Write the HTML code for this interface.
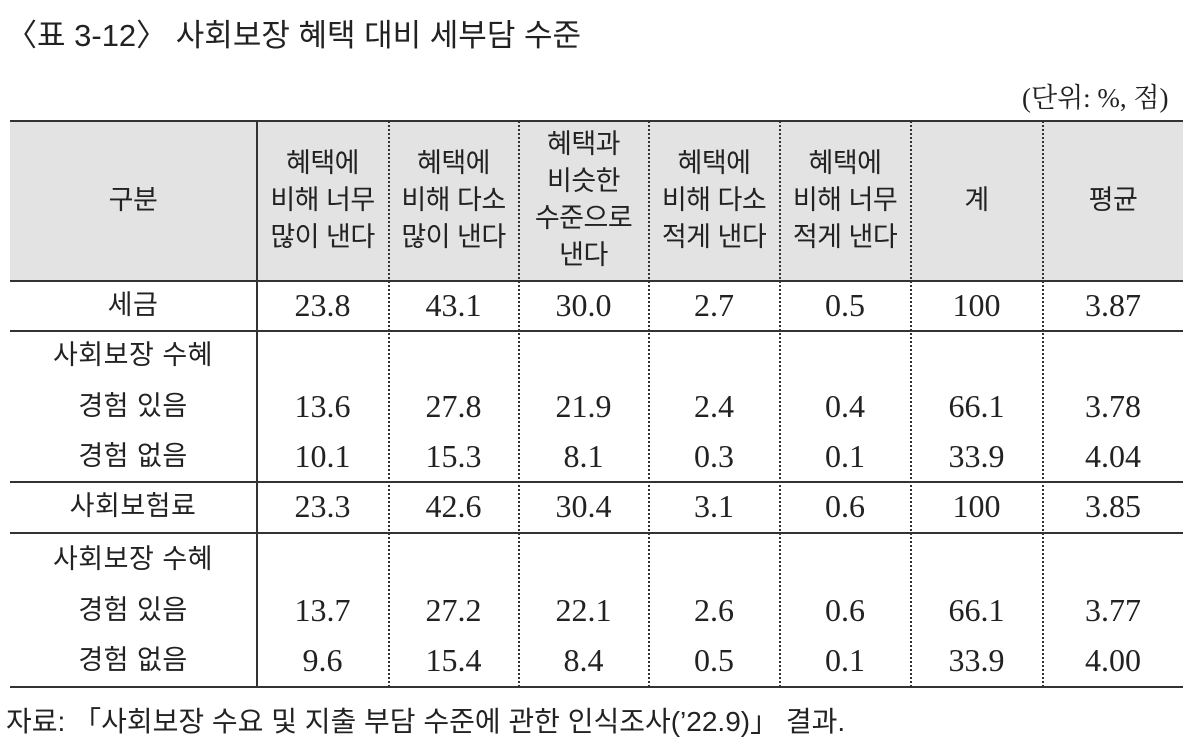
<!DOCTYPE html>
<html><head><meta charset="utf-8"><style>
html,body{margin:0;padding:0;background:#fff;width:1200px;height:751px;overflow:hidden}
body{position:relative;font-family:"Liberation Sans","Noto Sans CJK KR","NanumGothic",sans-serif;color:#222}
.t{position:absolute;white-space:nowrap}
.h{position:absolute;top:121px;left:10px;width:1173px;height:160px;background:#e3e3e3}
.hl{position:absolute;left:10px;width:1173px;height:0;border-top:2px solid #333}
.vl{position:absolute;top:121px;height:566px;width:0;border-left:2px dotted #333}
.c{position:absolute;text-align:center;font-size:27px;line-height:37px;letter-spacing:-0.5px;white-space:nowrap}
.n{position:absolute;text-align:center;font-family:"Liberation Serif",serif;font-size:32px;line-height:36px}
.k{position:absolute;text-align:center;font-size:27px;line-height:36px;letter-spacing:0.5px}
</style></head><body>
<div class="t" style="left:6px;top:10px;font-size:31px">〈표 3-12〉 사회보장 혜택 대비 세부담 수준</div>
<div class="t" style="left:1022px;top:76px;font-size:27px;font-family:'Liberation Serif','Noto Serif CJK SC',serif">(단위: %, 점)</div>
<div class="h"></div>
<div class="hl" style="top:120px"></div>
<div class="hl" style="top:280px"></div>
<div class="hl" style="top:330px"></div>
<div class="hl" style="top:481px"></div>
<div class="hl" style="top:532px"></div>
<div class="hl" style="top:686px"></div>
<div class="vl" style="left:256px;border-left:2px solid #333"></div>
<div class="vl" style="left:388px"></div>
<div class="vl" style="left:518px"></div>
<div class="vl" style="left:648px"></div>
<div class="vl" style="left:779px"></div>
<div class="vl" style="left:910px"></div>
<div class="vl" style="left:1042px"></div>
<div class="c" style="left:10px;width:246px;top:182px">구분</div>
<div class="c" style="left:257px;width:131px;top:145px">혜택에<br>비해 너무<br>많이 낸다</div>
<div class="c" style="left:389px;width:129px;top:145px">혜택에<br>비해 다소<br>많이 낸다</div>
<div class="c" style="left:519px;width:129px;top:126px">혜택과<br>비슷한<br>수준으로<br>낸다</div>
<div class="c" style="left:649px;width:130px;top:145px">혜택에<br>비해 다소<br>적게 낸다</div>
<div class="c" style="left:780px;width:130px;top:145px">혜택에<br>비해 너무<br>적게 낸다</div>
<div class="c" style="left:911px;width:131px;top:182px">계</div>
<div class="c" style="left:1043px;width:140px;top:182px">평균</div>
<div id="rows"></div>
<div class="t" style="left:6px;top:700px;font-size:28px">자료: 「사회보장 수요 및 지출 부담 수준에 관한 인식조사(’22.9)」 결과.</div>
<script>
var cols=[[257,131],[389,129],[519,129],[649,130],[780,130],[911,131],[1043,140]];
var rows=[
[287,"세금",["23.8","43.1","30.0","2.7","0.5","100","3.87"]],
[337,"사회보장 수혜",null],
[388,"경험 있음",["13.6","27.8","21.9","2.4","0.4","66.1","3.78"]],
[438,"경험 없음",["10.1","15.3","8.1","0.3","0.1","33.9","4.04"]],
[488,"사회보험료",["23.3","42.6","30.4","3.1","0.6","100","3.85"]],
[541,"사회보장 수혜",null],
[592,"경험 있음",["13.7","27.2","22.1","2.6","0.6","66.1","3.77"]],
[642,"경험 없음",["9.6","15.4","8.4","0.5","0.1","33.9","4.00"]]];
var h="";
rows.forEach(function(r){
 h+='<div class="k" style="left:10px;width:246px;top:'+r[0]+'px">'+r[1]+'</div>';
 if(r[2])r[2].forEach(function(v,i){h+='<div class="n" style="left:'+cols[i][0]+'px;width:'+cols[i][1]+'px;top:'+r[0]+'px">'+v+'</div>';});
});
document.getElementById("rows").innerHTML=h;
</script>
</body></html>
